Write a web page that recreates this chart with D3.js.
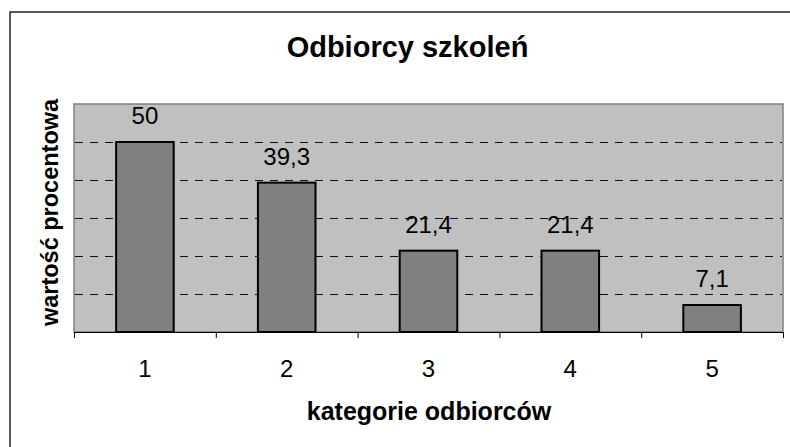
<!DOCTYPE html>
<meta charset="utf-8">
<html>
<head>
    <title>Odbiorcy szkoleń</title>
</head>
<style type="text/css">
    body{ margin:0; background:#fff; }
    text{ font-family: "Liberation Sans", Arial, Helvetica, sans-serif; fill:#000; }
</style>
<script src="https://cdn.jsdelivr.net/npm/d3@7"></script>
<body>
<script type="text/javascript">
// chart data
var categories = ["1", "2", "3", "4", "5"]
var values = [50, 39.3, 21.4, 21.4, 7.1]
var labels = ["50", "39,3", "21,4", "21,4", "7,1"]
var gridTicks = [10, 20, 30, 40, 50]

var svg = d3.select("body").append("svg")
    .attr("width", 790)
    .attr("height", 447)

var plot = {left: 74, right: 783, top: 104, bottom: 332}

// outer chart border (runs off the right / bottom edge)
svg.append("rect")
    .attr("x", 10).attr("y", 12)
    .attr("width", 800).attr("height", 460)
    .style("fill", "#fff")
    .style("stroke", "#222")
    .style("stroke-width", 1.5)

var x = d3.scaleBand()
    .domain(categories)
    .range([plot.left, plot.right])
    .paddingInner(0.594)
    .paddingOuter(0.297)

var y = d3.scaleLinear()
    .domain([0, 60])
    .range([plot.bottom, plot.top])

// plot area
svg.append("rect")
    .attr("x", plot.left).attr("y", plot.top)
    .attr("width", plot.right - plot.left)
    .attr("height", plot.bottom - plot.top)
    .style("fill", "#c0c0c0")
    .style("stroke", "#808080")
    .style("stroke-width", 1.5)

// dashed gridlines
svg.selectAll("line.grid")
    .data(gridTicks)
    .enter()
    .append("line")
    .attr("class", "grid")
    .attr("x1", plot.left + 1).attr("x2", plot.right - 1)
    .attr("y1", d => Math.round(y(d)) + 0.5)
    .attr("y2", d => Math.round(y(d)) + 0.5)
    .style("stroke", "#111")
    .style("stroke-width", 1)
    .style("stroke-dasharray", "8,7")

// bars
svg.selectAll("rect.bar")
    .data(values)
    .enter()
    .append("rect")
    .attr("class", "bar")
    .attr("x", (d, i) => x(categories[i]))
    .attr("y", d => y(d))
    .attr("width", x.bandwidth())
    .attr("height", d => y(0) - y(d))
    .style("fill", "#808080")
    .style("stroke", "#000")
    .style("stroke-width", 2)

// value labels
svg.selectAll("text.value")
    .data(values)
    .enter()
    .append("text")
    .attr("class", "value")
    .attr("x", (d, i) => x(categories[i]) + x.bandwidth() / 2)
    .attr("y", d => y(d) - 18)
    .attr("text-anchor", "middle")
    .style("font-size", "24px")
    .text((d, i) => labels[i])

// x axis: ticks on category boundaries
var bounds = d3.scaleLinear().domain([0, categories.length]).range([plot.left, plot.right])
var xAxis = svg.append("g")
    .attr("transform", "translate(0," + plot.bottom + ")")
    .call(d3.axisBottom(bounds).ticks(categories.length).tickSize(6).tickFormat(""))
xAxis.select(".domain").style("stroke", "#000").style("stroke-width", 1)
xAxis.selectAll(".tick line").style("stroke", "#000")

svg.selectAll("text.cat")
    .data(categories)
    .enter()
    .append("text")
    .attr("class", "cat")
    .attr("x", d => x(d) + x.bandwidth() / 2)
    .attr("y", 376.5)
    .attr("text-anchor", "middle")
    .style("font-size", "24px")
    .text(d => d)

// titles
svg.append("text")
    .attr("x", 407.5).attr("y", 57)
    .attr("text-anchor", "middle")
    .style("font-size", "29px")
    .style("font-weight", "bold")
    .text("Odbiorcy szkoleń")

svg.append("text")
    .attr("x", 429).attr("y", 420)
    .attr("text-anchor", "middle")
    .style("font-size", "25px")
    .style("font-weight", "bold")
    .text("kategorie odbiorców")

svg.append("text")
    .attr("transform", "translate(58,212.5) rotate(-90)")
    .attr("text-anchor", "middle")
    .style("font-size", "23.5px")
    .style("font-weight", "bold")
    .text("wartość procentowa")
</script>
</body>
</html>
